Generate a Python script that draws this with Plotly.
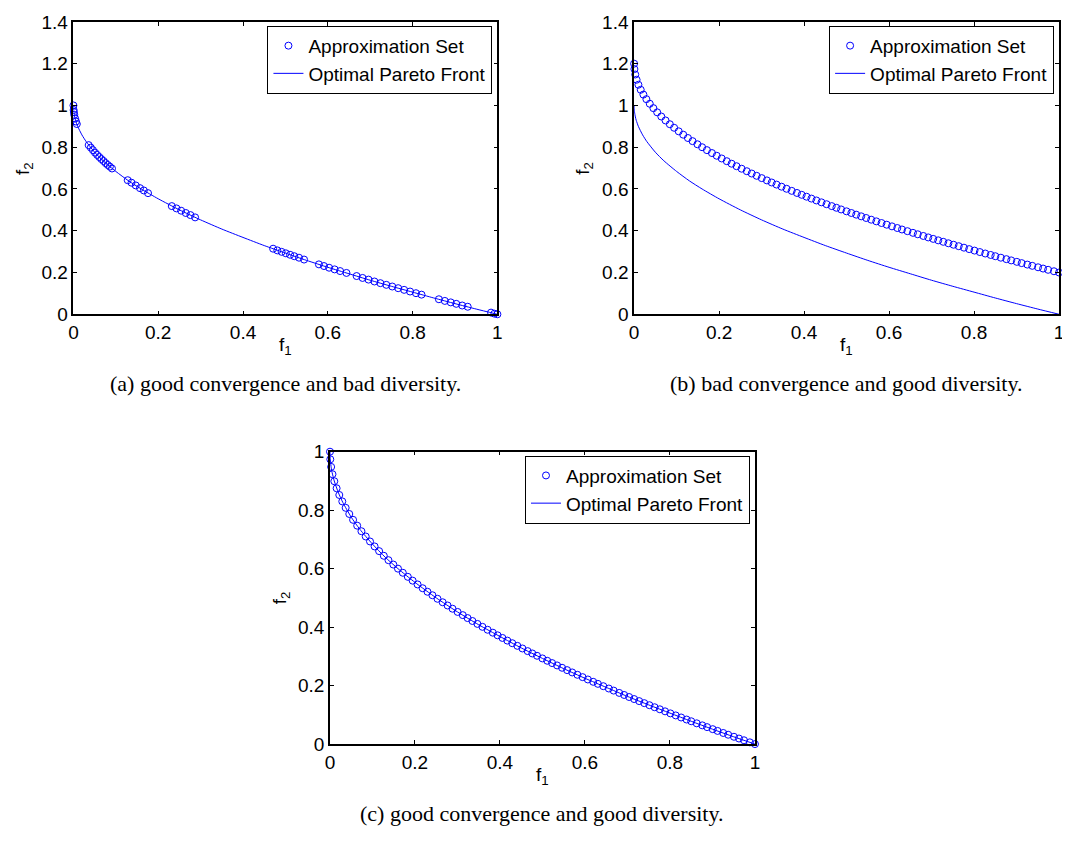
import plotly.graph_objects as go

# page is 1070x843; the html body keeps an 8px margin, so the figure is drawn 8px in
PAGE_W, PAGE_H = 1070, 843
OFF = 8
W, H = PAGE_W - OFF, PAGE_H - 2 * OFF

# ---------------- data ----------------
# Optimal Pareto front
front_f1 = [0, 0.0002, 0.001, 0.003, 0.005, 0.01, 0.02, 0.03, 0.05, 0.07, 0.1, 0.13, 0.16, 0.2,
            0.25, 0.3, 0.35, 0.4, 0.45, 0.5, 0.55, 0.6, 0.65, 0.7, 0.75, 0.8, 0.85, 0.9, 0.95, 1.0]
front_f2 = [1.0, 0.986, 0.968, 0.945, 0.929, 0.9, 0.859, 0.827, 0.776, 0.735, 0.684, 0.639, 0.6, 0.553,
            0.5, 0.452, 0.408, 0.368, 0.329, 0.293, 0.258, 0.225, 0.194, 0.163, 0.134, 0.106, 0.078,
            0.051, 0.025, 0.0]

# (a) good convergence, bad diversity
a_f1 = [0, 0.0005, 0.001, 0.002, 0.004, 0.006, 0.008,
        0.036, 0.041, 0.046, 0.051, 0.056, 0.061, 0.066, 0.071, 0.076, 0.081, 0.086, 0.091,
        0.128, 0.137, 0.147, 0.157, 0.166, 0.176,
        0.232, 0.243, 0.254, 0.265, 0.276, 0.287,
        0.471, 0.481, 0.491, 0.501, 0.511, 0.521, 0.532, 0.544,
        0.579, 0.591, 0.603, 0.616, 0.629, 0.644,
        0.668, 0.682, 0.696, 0.710, 0.724, 0.738, 0.752, 0.766, 0.780, 0.794, 0.808, 0.821,
        0.862, 0.876, 0.890, 0.903, 0.917, 0.930,
        0.985, 0.993, 1.0]
a_f2 = [1.0, 0.978, 0.968, 0.955, 0.937, 0.923, 0.911,
        0.810, 0.798, 0.786, 0.774, 0.763, 0.753, 0.743, 0.734, 0.724, 0.715, 0.707, 0.698,
        0.642, 0.630, 0.617, 0.604, 0.593, 0.580,
        0.518, 0.507, 0.496, 0.485, 0.475, 0.464,
        0.314, 0.306, 0.299, 0.292, 0.285, 0.278, 0.271, 0.262,
        0.239, 0.231, 0.223, 0.215, 0.207, 0.198,
        0.183, 0.174, 0.166, 0.157, 0.149, 0.141, 0.133, 0.125, 0.117, 0.109, 0.101, 0.094,
        0.072, 0.064, 0.057, 0.050, 0.042, 0.036,
        0.008, 0.003, 0.0]

# (b) and (c) share the same f1 spread
bc_f1 = [0, 0.0007, 0.0027, 0.0059, 0.0102, 0.0156, 0.0219, 0.0289, 0.0369, 0.0454,
         0.0543, 0.0640, 0.0740, 0.0841, 0.0942, 0.1050, 0.1156, 0.1267, 0.1376, 0.1490,
         0.1600, 0.1714, 0.1832, 0.1945, 0.2061, 0.2181, 0.2294, 0.2411, 0.2530, 0.2652,
         0.2767, 0.2884, 0.3003, 0.3125, 0.3238, 0.3352, 0.3469, 0.3588, 0.3709, 0.3832,
         0.3944, 0.4058, 0.4173, 0.4290, 0.4409, 0.4529, 0.4651, 0.4761, 0.4872, 0.4998,
         0.5112, 0.5227, 0.5344, 0.5461, 0.5580, 0.5700, 0.5822, 0.5944, 0.6068, 0.6194,
         0.6304, 0.6432, 0.6561, 0.6675, 0.6806, 0.6922, 0.7039, 0.7157, 0.7276, 0.7396,
         0.7517, 0.7639, 0.7762, 0.7885, 0.8010, 0.8136, 0.8263, 0.8391, 0.8501, 0.8630,
         0.8761, 0.8874, 0.9006, 0.9120, 0.9254, 0.9370, 0.9506, 0.9624, 0.9742, 0.9880,
         1.0]
b_f2 = [1.2, 1.174, 1.148, 1.123, 1.099, 1.075, 1.052, 1.030, 1.008, 0.987,
        0.967, 0.947, 0.928, 0.910, 0.893, 0.876, 0.860, 0.844, 0.829, 0.814,
        0.800, 0.786, 0.772, 0.759, 0.746, 0.733, 0.721, 0.709, 0.697, 0.685,
        0.674, 0.663, 0.652, 0.641, 0.631, 0.621, 0.611, 0.601, 0.591, 0.581,
        0.572, 0.563, 0.554, 0.545, 0.536, 0.527, 0.518, 0.510, 0.502, 0.493,
        0.485, 0.477, 0.469, 0.461, 0.453, 0.445, 0.437, 0.429, 0.421, 0.413,
        0.406, 0.398, 0.390, 0.383, 0.375, 0.368, 0.361, 0.354, 0.347, 0.340,
        0.333, 0.326, 0.319, 0.312, 0.305, 0.298, 0.291, 0.284, 0.278, 0.271,
        0.264, 0.258, 0.251, 0.245, 0.238, 0.232, 0.225, 0.219, 0.213, 0.206,
        0.200]
c_f2 = [1.0, 0.974, 0.948, 0.923, 0.899, 0.875, 0.852, 0.830, 0.808, 0.787,
        0.767, 0.747, 0.728, 0.710, 0.693, 0.676, 0.660, 0.644, 0.629, 0.614,
        0.600, 0.586, 0.572, 0.559, 0.546, 0.533, 0.521, 0.509, 0.497, 0.485,
        0.474, 0.463, 0.452, 0.441, 0.431, 0.421, 0.411, 0.401, 0.391, 0.381,
        0.372, 0.363, 0.354, 0.345, 0.336, 0.327, 0.318, 0.310, 0.302, 0.293,
        0.285, 0.277, 0.269, 0.261, 0.253, 0.245, 0.237, 0.229, 0.221, 0.213,
        0.206, 0.198, 0.190, 0.183, 0.175, 0.168, 0.161, 0.154, 0.147, 0.140,
        0.133, 0.126, 0.119, 0.112, 0.105, 0.098, 0.091, 0.084, 0.078, 0.071,
        0.064, 0.058, 0.051, 0.045, 0.038, 0.032, 0.025, 0.019, 0.013, 0.006,
        0.000]

captions = ["(a) good convergence and bad diversity.",
            "(b) bad convergence and good diversity.",
            "(c) good convergence and good diversity."]
series_names = ["Approximation Set", "Optimal Pareto Front"]

# ---------------- layout helpers (page pixel -> paper fraction) ----------------
def px(x):
    return (x - OFF) / W

def py(y):
    return 1 - (y - OFF) / H

# pixel boxes on the page: (left, right, top, bottom)
boxes = [(69, 497, 12, 312), (635, 1064, 12, 312), (328, 757, 453, 753)]
yranges = [[0, 1.4], [0, 1.4], [0, 1.0]]
approx = [(a_f1, a_f2), (bc_f1, b_f2), (bc_f1, c_f2)]

BLUE = "#0000ff"
FONT = "Liberation Sans, Arial, Helvetica, sans-serif"
SERIF = "Liberation Serif, Times New Roman, serif"
FS = 19

fig = go.Figure()
layout = dict(width=W, height=H, margin=dict(l=0, r=0, t=0, b=0),
              paper_bgcolor="white", plot_bgcolor="white", showlegend=True,
              font=dict(family=FONT, size=FS, color="black"))
annotations = []

for i, (box, yr, (xs, ys)) in enumerate(zip(boxes, yranges, approx)):
    sfx = "" if i == 0 else str(i + 1)
    lg = "legend" + sfx
    fig.add_trace(go.Scatter(x=xs, y=ys, mode="markers", name=series_names[0],
                             marker=dict(symbol="circle-open", size=7, color=BLUE,
                                         line=dict(width=1, color=BLUE)),
                             xaxis="x" + sfx, yaxis="y" + sfx, legend=lg, cliponaxis=False))
    fig.add_trace(go.Scatter(x=front_f1, y=front_f2, mode="lines", name=series_names[1],
                             line=dict(color=BLUE, width=1, shape="spline", smoothing=0.6),
                             xaxis="x" + sfx, yaxis="y" + sfx, legend=lg, cliponaxis=False))
    l, r, t, b = box
    common = dict(showgrid=False, zeroline=False, showline=True, linecolor="black", linewidth=1.5,
                  mirror="ticks", ticks="inside", ticklen=4, tickcolor="black", tickwidth=1,
                  tickfont=dict(family=FONT, size=FS, color="black"), fixedrange=True)
    layout["xaxis" + sfx] = dict(domain=[px(l), px(r)], range=[0, 1], dtick=0.2,
                                 anchor="y" + sfx, **common)
    layout["yaxis" + sfx] = dict(domain=[py(b), py(t)], range=yr, dtick=0.2,
                                 anchor="x" + sfx, **common)
    layout[lg] = dict(x=px(r - 5), y=py(t + 4), xanchor="right", yanchor="top",
                      bgcolor="white", bordercolor="black", borderwidth=1,
                      font=dict(family=FONT, size=FS, color="black"),
                      itemwidth=30, tracegroupgap=0)
    cx = (l + r) / 2
    annotations.append(dict(x=px(cx), y=py(b + 33), xref="paper", yref="paper",
                            xanchor="center", yanchor="middle",
                            text="f<sub>1</sub>", showarrow=False,
                            font=dict(family=FONT, size=FS, color="black")))
    annotations.append(dict(x=px(l - 50), y=py((t + b) / 2), xref="paper", yref="paper",
                            xanchor="center", yanchor="middle",
                            text="f<sub>2</sub>", showarrow=False, textangle=-90,
                            font=dict(family=FONT, size=FS, color="black")))
    annotations.append(dict(x=px(cx), y=py(b + 71), xref="paper", yref="paper",
                            xanchor="center", yanchor="middle",
                            text=captions[i], showarrow=False,
                            font=dict(family=SERIF, size=22, color="black")))

layout["annotations"] = annotations
fig.update_layout(**layout)
fig.write_html("out.html")
